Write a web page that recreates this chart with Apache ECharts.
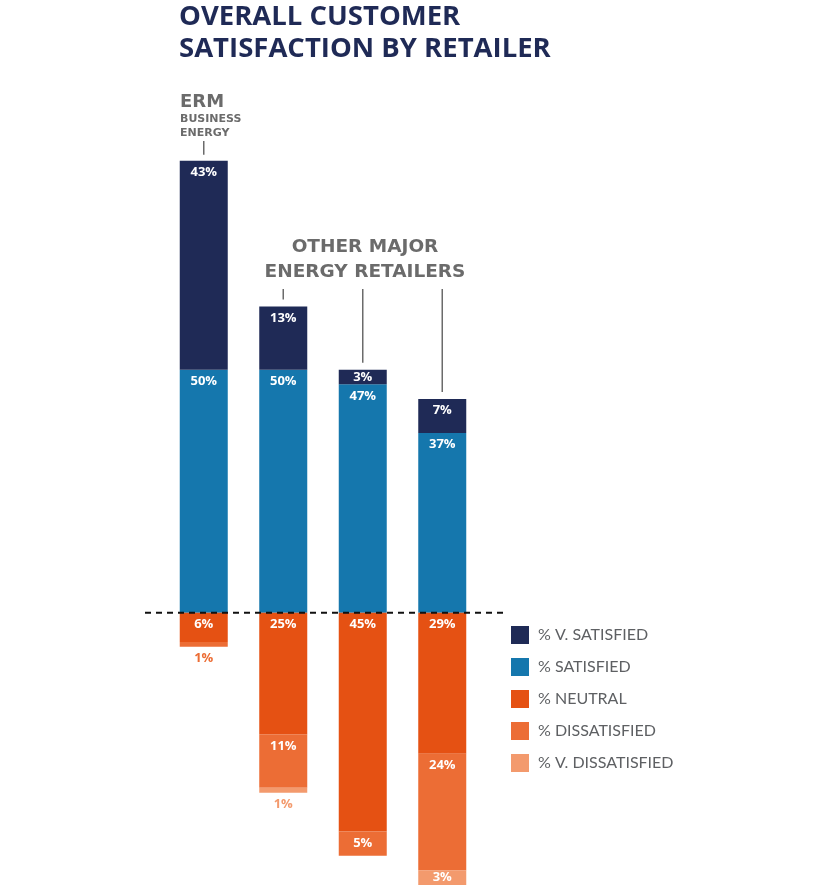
<!DOCTYPE html>
<html>
<head>
<meta charset="utf-8">
<script src="https://cdn.jsdelivr.net/npm/echarts@6/dist/echarts.min.js"></script>
<style>
  html, body { margin: 0; padding: 0; background: #fff; }
</style>
</head>
<body>
<div id="container" style="width: 820px;height:888px;"></div>
<script>
  // retailers, left to right
  var retailers = ['ERM Business Energy', 'Retailer 1', 'Retailer 2', 'Retailer 3'];
  var seriesNames = ['% V. SATISFIED', '% SATISFIED', '% NEUTRAL', '% DISSATISFIED', '% V. DISSATISFIED'];
  var vSatisfied = [43, 13, 3, 7];
  var satisfied = [50, 50, 47, 37];
  var neutral = [6, 25, 45, 29];
  var dissatisfied = [1, 11, 5, 24];
  var vDissatisfied = [0, 1, 0, 3];

  var colors = ['#1f2a56', '#1577ad', '#e55113', '#ec6d35', '#f39a6d'];
  var grey = '#6b6b6b';

  var myChart = echarts.init(document.getElementById('container'));

  // label position depends on how tall the segment is
  function makeData(values, sign, color) {
    return values.map(function (v) {
      var item = {value: sign * v, label: {}};
      if (v === 0) {
        item.label.show = false;
      } else if (v <= 1) {
        item.label.position = 'bottom';
        item.label.distance = 5;
        item.label.color = color;
      } else if (v <= 5) {
        item.label.position = 'inside';
      }
      return item;
    });
  }

  function barSeries(i, values, sign) {
    return {
      name: seriesNames[i],
      type: 'bar',
      stack: 'total',
      barWidth: 48,
      itemStyle: {color: colors[i]},
      label: {
        show: true,
        position: 'insideTop',
        distance: 5,
        color: '#fff',
        fontFamily: 'Open Sans',
        fontWeight: 'bold',
        fontSize: 13,
        formatter: function (p) {
          return Math.abs(p.value) + '%';
        }
      },
      data: makeData(values, sign, colors[i])
    };
  }

  myChart.setOption({
    animation: false,
    title: {
      text: 'OVERALL CUSTOMER\nSATISFACTION BY RETAILER',
      left: 179,
      top: 1,
      padding: 0,
      textStyle: {
        color: '#1f2a56',
        fontFamily: 'Open Sans',
        fontWeight: 'bold',
        fontSize: 27.5,
        lineHeight: 32
      }
    },
    legend: {
      data: seriesNames,
      orient: 'vertical',
      left: 511,
      top: 626,
      padding: 0,
      itemWidth: 18,
      itemHeight: 18,
      itemGap: 14,
      icon: 'rect',
      textStyle: {color: '#5e6063', fontFamily: 'Lato', fontSize: 16, padding: [0, 0, 0, 4]}
    },
    grid: {left: 164, width: 318, top: 151, height: 734},
    xAxis: {
      type: 'category',
      data: retailers,
      show: false
    },
    yAxis: {
      type: 'value',
      min: -56,
      max: 95,
      show: false
    },
    // satisfied sits on the zero line, very satisfied stacks above it
    series: [
      barSeries(1, satisfied, 1),
      barSeries(0, vSatisfied, 1),
      barSeries(2, neutral, -1),
      barSeries(3, dissatisfied, -1),
      barSeries(4, vDissatisfied, -1)
    ]
  });

  // annotations placed from the axis scale
  function px(i, v) {
    return myChart.convertToPixel({gridIndex: 0}, [i, v]);
  }

  var zero = px(0, 0);
  var graphics = [
    {
      type: 'line', z: 100,
      shape: {x1: 145, y1: zero[1], x2: 503, y2: zero[1]},
      style: {stroke: '#111', lineWidth: 2, lineDash: [6, 5]}
    },
    {
      type: 'text', left: 180, top: 93,
      style: {text: 'ERM', fill: grey, font: 'bold 18px "DejaVu Sans"'}
    },
    {
      type: 'text', left: 180, top: 112,
      style: {text: 'BUSINESS\nENERGY', fill: grey, font: 'bold 11px "DejaVu Sans"', lineHeight: 14}
    },
    {
      type: 'text', z: 10,
      style: {
        text: 'OTHER MAJOR\nENERGY RETAILERS', x: 365, y: 235,
        fill: grey, font: '600 18.5px "DejaVu Sans"', lineHeight: 25, align: 'center'
      }
    }
  ];

  // connector lines down to the top of each bar
  for (var i = 0; i < retailers.length; i++) {
    var barTop = px(i, vSatisfied[i] + satisfied[i]);
    graphics.push({
      type: 'line',
      shape: {x1: barTop[0], y1: i === 0 ? 141 : 289, x2: barTop[0], y2: barTop[1] - (i === 0 ? 6 : 7)},
      style: {stroke: grey, lineWidth: 1.5}
    });
  }

  myChart.setOption({graphic: graphics});
</script>
</body>
</html>
